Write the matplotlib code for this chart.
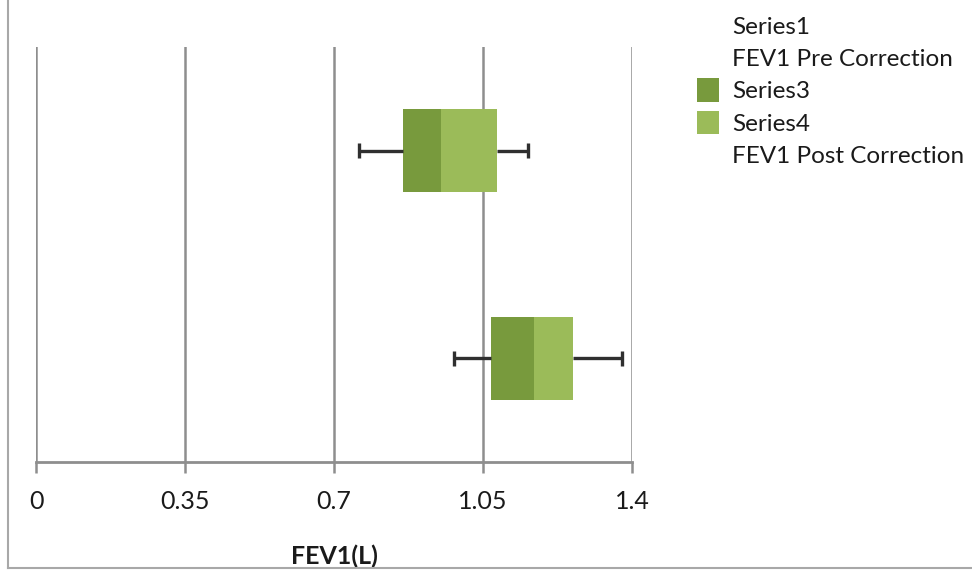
import matplotlib
matplotlib.use("Agg")
import matplotlib.pyplot as plt
from matplotlib.patches import Patch
from matplotlib.lines import Line2D
import numpy as np

plt.rcParams['font.family'] = ['Lato', 'DejaVu Sans']

# Data
categories = ["FEV1 Post Correction", "FEV1 Pre Correction"]  # bottom, top
q1 = [1.069, 0.862]
median = [1.170, 0.951]
q3 = [1.261, 1.083]
wmin = [0.982, 0.759]
wmax = [1.377, 1.156]
xticks = [0, 0.35, 0.7, 1.05, 1.4]
xtick_labels = ["0", "0.35", "0.7", "1.05", "1.4"]

dark = "#789a3d"
light = "#9bbb59"
grid_c = "#8e8e8e"
txt_c = "#1a1a1a"

fig = plt.figure(figsize=(9.72, 5.71), dpi=100)
ax = fig.add_axes([36/972, 1-462/571, (632-36)/972, (462-47)/571])

y = np.arange(len(categories))
q1a, meda, q3a = np.array(q1), np.array(median), np.array(q3)
s1 = q1a
s3 = meda - q1a
s4 = q3a - meda
h = 0.4
ax.barh(y, s1, height=h, color="none", zorder=3)
ax.barh(y, s3, left=s1, height=h, color=dark, zorder=3)
ax.barh(y, s4, left=s1 + s3, height=h, color=light, zorder=3)

# whiskers (lines from box edges, caps only at the outer ends)
wc = "#2f2f2f"
cap = 0.036
ax.hlines(y, wmin, q1a, color=wc, linewidth=2.4, zorder=4)
ax.hlines(y, q3a, wmax, color=wc, linewidth=2.4, zorder=4)
ax.vlines(wmin, y - cap, y + cap, color=wc, linewidth=2.4, zorder=4)
ax.vlines(wmax, y - cap, y + cap, color=wc, linewidth=2.4, zorder=4)

ax.set_xlim(0, 1.4)
ax.set_ylim(-0.5, 1.5)
ax.set_xticks(xticks)
ax.set_xticklabels(xtick_labels, fontsize=18, color=txt_c)
ax.set_yticks([])
ax.xaxis.grid(True, color=grid_c, linewidth=1.8, zorder=0)
ax.set_axisbelow(True)
for s in ["top", "right", "left"]:
    ax.spines[s].set_visible(False)
ax.spines["bottom"].set_color(grid_c)
ax.spines["bottom"].set_linewidth(2)
ax.tick_params(axis="x", direction="out", length=8, width=1.8, color=grid_c, pad=12)
ax.set_xlabel("FEV1(L)", fontsize=18, fontweight="bold", color=txt_c, labelpad=23)

# Legend
handles = [
    Patch(facecolor="none", edgecolor="none"),
    Patch(facecolor="none", edgecolor="none"),
    Patch(facecolor=dark, edgecolor="none"),
    Patch(facecolor=light, edgecolor="none"),
    Patch(facecolor="none", edgecolor="none"),
]
labels = ["Series1", "FEV1 Pre Correction", "Series3", "Series4", "FEV1 Post Correction"]
fig.legend(handles, labels, loc="upper left", bbox_to_anchor=(697/972, 1-14/571),
           frameon=False, fontsize=17.5, handlelength=0.9, handleheight=1.1,
           handletextpad=0.55, labelspacing=0.34, borderaxespad=0, borderpad=0,
           labelcolor=txt_c)

# chart area border (cropped)
fig.add_artist(Line2D([8/972, 8/972], [1, 1-568/571], transform=fig.transFigure,
                      color="#a8a8a8", linewidth=1.5))
fig.add_artist(Line2D([8/972, 1], [1-568/571, 1-568/571], transform=fig.transFigure,
                      color="#a8a8a8", linewidth=1.5))

fig.savefig("out.png", dpi=100)
